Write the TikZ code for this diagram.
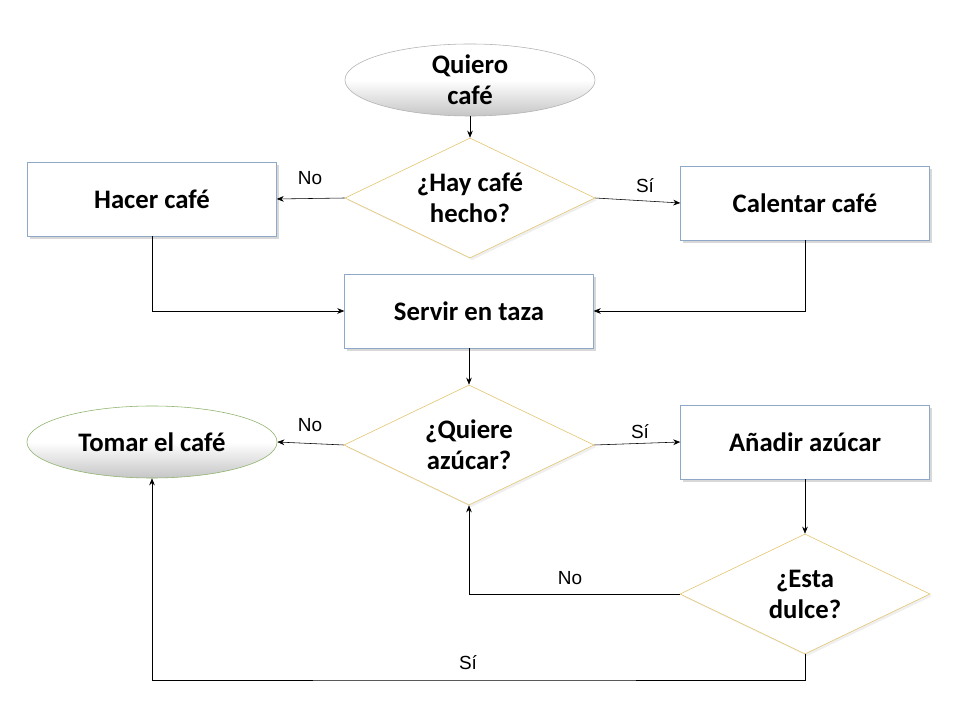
\documentclass[tikz,border=0pt]{standalone}
\usepackage{fontspec}
\setmainfont{Carlito}
\newfontfamily\labelfont{Liberation Sans}
\usetikzlibrary{shapes.geometric,shadows,arrows.meta}
\definecolor{boxline}{HTML}{8EA9C8}
\definecolor{decline}{HTML}{E2C46A}
\definecolor{endline}{HTML}{8DB36B}
\begin{document}
\begin{tikzpicture}[x=0.025cm,y=-0.025cm,
    font=\bfseries\fontsize{19}{22}\selectfont,
    proc/.style={draw=boxline,fill=white,align=center,minimum width=6.22cm,minimum height=1.85cm,
      drop shadow={shadow xshift=2pt,shadow yshift=-2pt,opacity=0.3}},
    decide/.style={diamond,draw=decline,fill=white,align=center,aspect=2,inner sep=0pt,
      minimum width=6.25cm,minimum height=3cm,
      drop shadow={shadow xshift=1.5pt,shadow yshift=-1.5pt,opacity=0.12}},
    term/.style={ellipse,align=center,minimum width=6.25cm,minimum height=1.8cm,inner ysep=-5pt,
      top color=white,bottom color=gray!45,middle color=white},
    answer/.style={font=\labelfont\fontsize{13.5}{16}\selectfont},
    flow/.style={-{Stealth[length=5pt,width=4pt]},black}]
  \useasboundingbox (0,0) rectangle (960,720);
  \fill[white] (0,0) rectangle (960,720);

  \node[term,draw=gray!60] (start) at (470,80) {Quiero\\café};
  \node[decide] (q1) at (470,198) {¿Hay café\\hecho?};
  \node[proc] (hacer) at (152,199) {Hacer café};
  \node[proc] (calentar) at (805,203) {Calentar café};
  \node[proc] (servir) at (469,311) {Servir en taza};
  \node[decide] (q2) at (469,445) {¿Quiere\\azúcar?};
  \node[term,draw=endline] (tomar) at (152,442) {Tomar el café};
  \node[proc] (anadir) at (805,442) {Añadir azúcar};
  \node[decide] (q3) at (805,594) {¿Esta\\dulce?};
  \coordinate (low) at (470,680);

  \draw[flow] (start) -- (q1);
  \draw[flow] (q1.west) -- (hacer.east);
  \draw[flow] (q1.east) -- (calentar.west);
  \draw[flow] (hacer.south) |- (servir.west);
  \draw[flow] (calentar.south) |- (servir.east);
  \draw[flow] (servir) -- (q2);
  \draw[flow] (q2.west) -- (tomar.east);
  \draw[flow] (q2.east) -- (anadir.west);
  \draw[flow] (anadir) -- (q3);
  \draw[flow] (q3.west) -| (q2.south);
  \draw[flow] (q3.south) |- (low) -| (tomar.south);

  \node[answer] (no1) at (310,178) {No};
  \node[answer] (si1) at (645,186) {Sí};
  \node[answer] (no2) at (310,425) {No};
  \node[answer] (si2) at (640,432) {Sí};
  \node[answer] (no3) at (570,578) {No};
  \node[answer] (si3) at (468,663) {Sí};
\end{tikzpicture}
\end{document}
